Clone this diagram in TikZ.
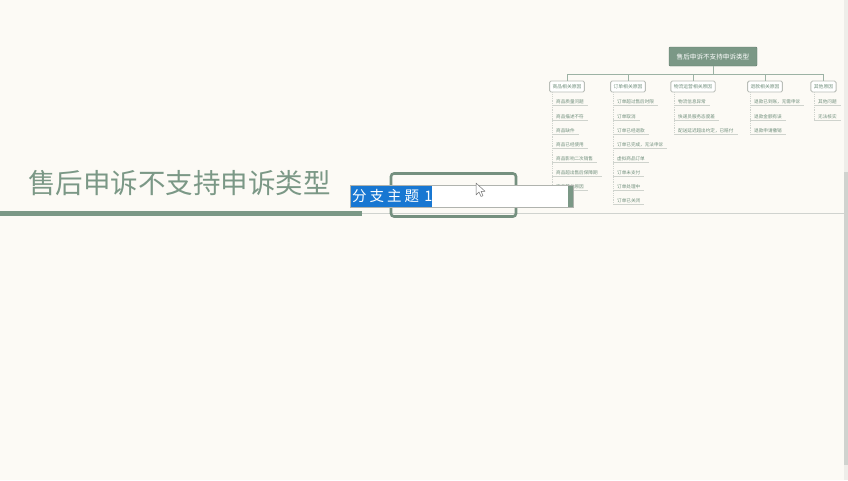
\documentclass[tikz,border=0pt]{standalone}
\usepackage{fontspec}
\newfontfamily\cjk{Noto Sans CJK SC}
\definecolor{paper}{HTML}{FCFAF5}
\definecolor{sage}{HTML}{7B9886}
\definecolor{sagetext}{HTML}{6F8E7B}
\definecolor{rule}{HTML}{CFD3CD}
\definecolor{hilite}{HTML}{1877D2}
\definecolor{track}{HTML}{EEEDE9}
\definecolor{thumb}{HTML}{D0D3CF}
\tikzset{
  title/.style={anchor=west, inner sep=0pt, text=sage, font=\fontsize{27.5}{30}\cjk},
  rootbox/.style={fill=sage, draw=sage!80!black, line width=0.4pt, rounded corners=1pt,
    minimum width=88pt, minimum height=19pt, inner sep=0pt, text=white, font=\fontsize{6.6}{7}\cjk},
  catbox/.style={fill=white, draw=rule!90!black, line width=0.9pt, rounded corners=1.5pt,
    minimum height=11pt, inner xsep=3pt, inner ysep=0pt, text=sagetext, font=\fontsize{4.8}{5}\cjk},
  leaf/.style={anchor=west, inner xsep=4pt, inner ysep=1.2pt, text=sagetext, font=\fontsize{4.6}{5}\cjk},
  bus/.style={draw=sage!75, line width=0.9pt},
  twig/.style={draw=rule, line width=0.8pt, densely dotted},
  underl/.style={draw=rule, line width=0.8pt},
}
\begin{document}
\begin{tikzpicture}[x=1pt,y=-1pt]
% canvas
\fill[paper] (0,0) rectangle (848,480);
\useasboundingbox (0,0) rectangle (848,480);
% scroll bar on the right edge
\fill[track] (844,0) rectangle (848,480);
\fill[thumb] (844,172) rectangle (848,465);

% ---------- overview map ----------
\node[rootbox] (root) at (713,56.5) {售后申诉不支持申诉类型};
\node[catbox] (c1) at (567,86.5) {商品相关原因};
\node[catbox] (c2) at (628,86.5) {订单相关原因};
\node[catbox] (c3) at (693,86.5) {物流运营相关原因};
\node[catbox] (c4) at (765,86.5) {退款相关原因};
\node[catbox] (c5) at (823.5,86.5) {其他原因};
\coordinate (busy) at (0,74);
\draw[bus] (root.south) -- (root.south |- busy);
\draw[bus] (c1.north) |- (c5.north |- busy) -- (c5.north);
\foreach \c in {c2,c3,c4} \draw[bus] (\c.north) -- (\c.north |- busy);

% leaves of the first branch
\foreach \i/\y/\t in {1/102/商品质量问题, 2/116.5/商品描述不符, 3/130.5/商品缺件,
    4/144.5/商品已经使用, 5/158.5/商品影响二次销售, 6/172.5/商品超出售后保障期, 7/186.5/商品其他原因}
  {\node[leaf] (a\i) at (552,\y) {\t};
   \draw[underl] (a\i.south west) -- (a\i.south east);}
\draw[twig] (c1.south -| a1.west) -- (a7.south west);

% leaves of the second branch
\foreach \i/\y/\t in {1/102/订单超过售后时限, 2/116.5/订单取消, 3/130.5/订单已经退款,
    4/144.5/订单已完成，无法申诉, 5/158.5/虚拟商品订单, 6/172.5/订单未支付,
    7/186.5/订单处理中, 8/200.5/订单已关闭}
  {\node[leaf] (b\i) at (613,\y) {\t};
   \draw[underl] (b\i.south west) -- (b\i.south east);}
\draw[twig] (c2.south -| b1.west) -- (b8.south west);

% leaves of the third branch
\foreach \i/\y/\t in {1/102/物流信息异常, 2/116.5/快递员服务态度差, 3/130.5/配送延迟超出约定，已赔付}
  {\node[leaf] (d\i) at (674,\y) {\t};
   \draw[underl] (d\i.south west) -- (d\i.south east);}
\draw[twig] (c3.south -| d1.west) -- (d3.south west);

% leaves of the fourth branch
\foreach \i/\y/\t in {1/102/退款已到账，无需申诉, 2/116.5/退款金额有误, 3/130.5/退款申请撤销}
  {\node[leaf] (e\i) at (750,\y) {\t};
   \draw[underl] (e\i.south west) -- (e\i.south east);}
\draw[twig] (c4.south -| e1.west) -- (e3.south west);

% leaves of the fifth branch
\foreach \i/\y/\t in {1/102/其他问题, 2/116.5/无法核实}
  {\node[leaf] (f\i) at (814,\y) {\t};
   \draw[underl] (f\i.south west) -- (f\i.south east);}
\draw[twig] (c5.south -| f1.west) -- (f2.south west);

% ---------- main topic ----------
\node[title] (topic) at (28,183) {售后申诉不支持申诉类型};
\coordinate (barend) at (362,213.5);
\fill[sage] (0,211) rectangle (barend |- 0,216);
\draw[draw=thumb, line width=0.9pt] (barend) -- (848,213.5);

% selection frame of the new branch
\draw[sage!95!black, line width=2.6pt, rounded corners=3pt] (391,173.5) rectangle (516,216.5);

% text entry box with highlighted text
\node[draw=rule!85!black, fill=white, line width=0.8pt, minimum width=223pt, minimum height=22pt,
  inner sep=0pt, anchor=north west] (entry) at (350,185) {};
\fill[sage] (568,185.5) rectangle (573,206.5);
\fill[hilite] (350.5,185.5) rectangle (432,206.5);
\node[anchor=west, inner sep=0pt, text=white, font=\fontsize{14.5}{16}\cjk] (seltext) at (352,196)
  {分\hspace{3pt}支\hspace{3pt}主\hspace{3pt}题\hspace{2pt} 1};

% mouse pointer
\draw[fill=white, draw=black!55, line width=0.5pt, line join=round]
  (476,183) -- (476,195) -- (479,192) -- (481,196.5) -- (483,195.7) -- (481,191.3) -- (485,191.3) -- cycle;
\end{tikzpicture}
\end{document}
